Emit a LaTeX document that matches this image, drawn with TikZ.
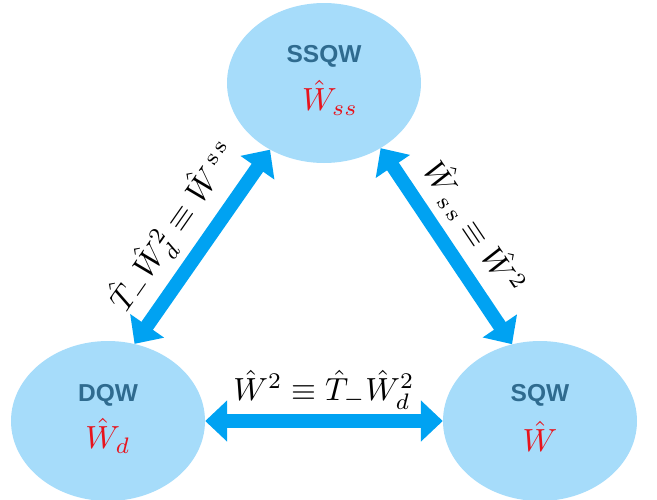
\documentclass[tikz,border=0pt]{standalone}
\usepackage{fontspec}
\newfontfamily\helv{Liberation Sans}
\usetikzlibrary{shapes.geometric,arrows.meta}
\definecolor{bubblec}{HTML}{A6DCFA}
\definecolor{arrc}{HTML}{00A2F2}
\definecolor{ttlc}{HTML}{2F6B8F}
\definecolor{wred}{HTML}{E8131C}
\begin{document}
\begin{tikzpicture}[x=1pt,y=-1pt,
 bubble/.style={ellipse,fill=bubblec,minimum width=194pt,minimum height=160pt,inner sep=0pt},
 title/.style={font=\helv\bfseries,text=ttlc,scale=2.45,inner sep=0pt},
 sym/.style={text=wred,scale=3.2,inner sep=0pt},
 link/.style={draw=arrc,line width=14pt,{Triangle[length=22pt,width=40pt]}-{Triangle[length=22pt,width=40pt]}},
 lab/.style={scale=3.2,inner sep=0pt}]
\useasboundingbox (0,0) rectangle (657,499);
\clip (0,0) rectangle (657,499);
\node[bubble] (SSQW) at (324,83) {};
\node[bubble] (DQW) at (108,421) {};
\node[bubble] (SQW) at (540,421) {};
\node[title] (t1) at (324,56) {SSQW};
\node[title] (t2) at (108,395) {DQW};
\node[title] (t3) at (540,395) {SQW};
\node[sym] (s1) at (330,98) {$\hat{W}_{ss}$};
\node[sym] (s2) at (108,436) {$\hat{W}_{d}$};
\node[sym] (s3) at (540,436) {$\hat{W}$};
\draw[link] (DQW.71) -- node[sloped,above=-7pt,lab] (l1) {$\hat{T}_{-}\hat{W}_d^2\equiv\hat{W}^{\,\mathrm{s\,s}}$} (SSQW.231);
\draw[link] (SSQW.311) -- node[sloped,above=-6pt,lab] (l2) {$\hat{W}_{\,\mathrm{s\,s}}\equiv\hat{W}^2$} (SQW.110);
\draw[link] (DQW.east) -- node[above=-11pt,lab] (l3) {$\hat{W}^2\equiv\hat{T}_{-}\hat{W}_d^2$} (SQW.west);
\end{tikzpicture}
\end{document}
